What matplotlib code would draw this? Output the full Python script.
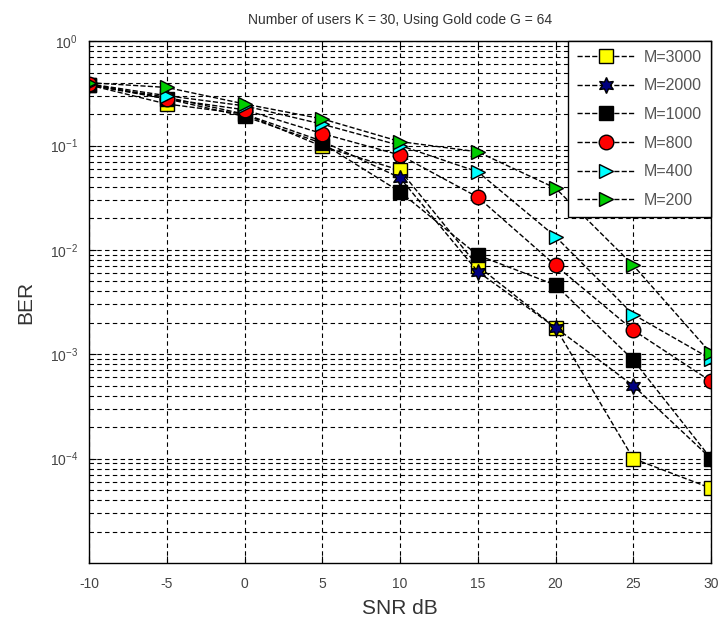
import matplotlib
matplotlib.use("Agg")
import matplotlib.pyplot as plt
from matplotlib.ticker import LogLocator, NullFormatter, FixedLocator

plt.rcParams['font.family'] = ['Liberation Sans Narrow', 'Liberation Sans', 'DejaVu Sans']
plt.rcParams['axes.unicode_minus'] = False

snr = [-10, -5, 0, 5, 10, 15, 20, 25, 30]

ber_3000 = [0.38, 0.25, 0.20, 0.098, 0.058, 0.0070, 0.0018, 1.0e-4, 5.2e-5]
ber_2000 = [0.38, 0.29, 0.20, 0.11, 0.049, 0.0062, 0.0018, 5.0e-4, 1.0e-4]
ber_1000 = [0.38, 0.28, 0.19, 0.105, 0.036, 0.0089, 0.0046, 8.8e-4, 1.0e-4]
ber_800 = [0.39, 0.28, 0.22, 0.13, 0.081, 0.032, 0.0071, 0.0017, 5.5e-4]
ber_400 = [0.39, 0.30, 0.24, 0.16, 0.10, 0.056, 0.0134, 0.0024, 9.0e-4]
ber_200 = [0.40, 0.36, 0.25, 0.18, 0.109, 0.087, 0.039, 0.0071, 1.02e-3]

labels = ['M=3000', 'M=2000', 'M=1000', 'M=800', 'M=400', 'M=200']
series = [ber_3000, ber_2000, ber_1000, ber_800, ber_400, ber_200]
markers = ['s', (6, 1, 0), 's', 'o', '>', '>']
colors = ['#ffff00', '#00007f', '#000000', '#ff0000', '#00ffff', '#00cc00']

fig = plt.figure(figsize=(7.2, 6.28), dpi=100)
ax = fig.add_axes([0.1236, 0.1035, 0.864, 0.831])

for y, lab, m, c in zip(series, labels, markers, colors):
    ms = 11.5 if m == (6, 1, 0) else 10.5
    ax.semilogy(snr, y, linestyle='--', color='black', linewidth=1.0,
                marker=m, markersize=ms, markerfacecolor=c,
                markeredgecolor='black', markeredgewidth=1.0, label=lab)

ax.set_xlim(-10, 30)
ax.set_ylim(1e-5, 1)
ax.set_xticks(snr)
ax.yaxis.set_major_locator(FixedLocator([1, 1e-1, 1e-2, 1e-3, 1e-4]))
ax.yaxis.set_minor_locator(LogLocator(base=10, subs=range(2, 10), numticks=20))
ax.yaxis.set_minor_formatter(NullFormatter())

dash = (0, (4, 3))
ax.grid(True, which='major', color='black', linestyle=dash, linewidth=0.8)
ax.grid(True, which='minor', axis='y', color='black', linestyle=dash, linewidth=0.8)

ax.tick_params(which='both', direction='in', top=True, right=True,
               labelsize=10, labelcolor='#444444')
ax.tick_params(axis='x', pad=10)
ax.tick_params(axis='y', pad=8)
ax.tick_params(which='major', length=5)
ax.tick_params(which='minor', length=3)
for s in ax.spines.values():
    s.set_linewidth(1.0)

ax.set_xlabel('SNR dB', fontsize=15, color='#333333', labelpad=6)
ax.set_ylabel('BER', fontsize=15, color='#333333', labelpad=10)
ax.set_title('Number of users K = 30, Using Gold code G = 64',
             fontsize=10, color='#333333', pad=12)

leg = ax.legend(loc='upper right', fontsize=11.5, frameon=True, fancybox=False,
                borderpad=0.55, labelspacing=0.85, handlelength=3.6,
                handletextpad=0.6, borderaxespad=0)
leg.get_frame().set_edgecolor('black')
leg.get_frame().set_linewidth(1.0)
leg.get_frame().set_alpha(1)
for t in leg.get_texts():
    t.set_color('#555555')

fig.savefig('out.png', dpi=100)
